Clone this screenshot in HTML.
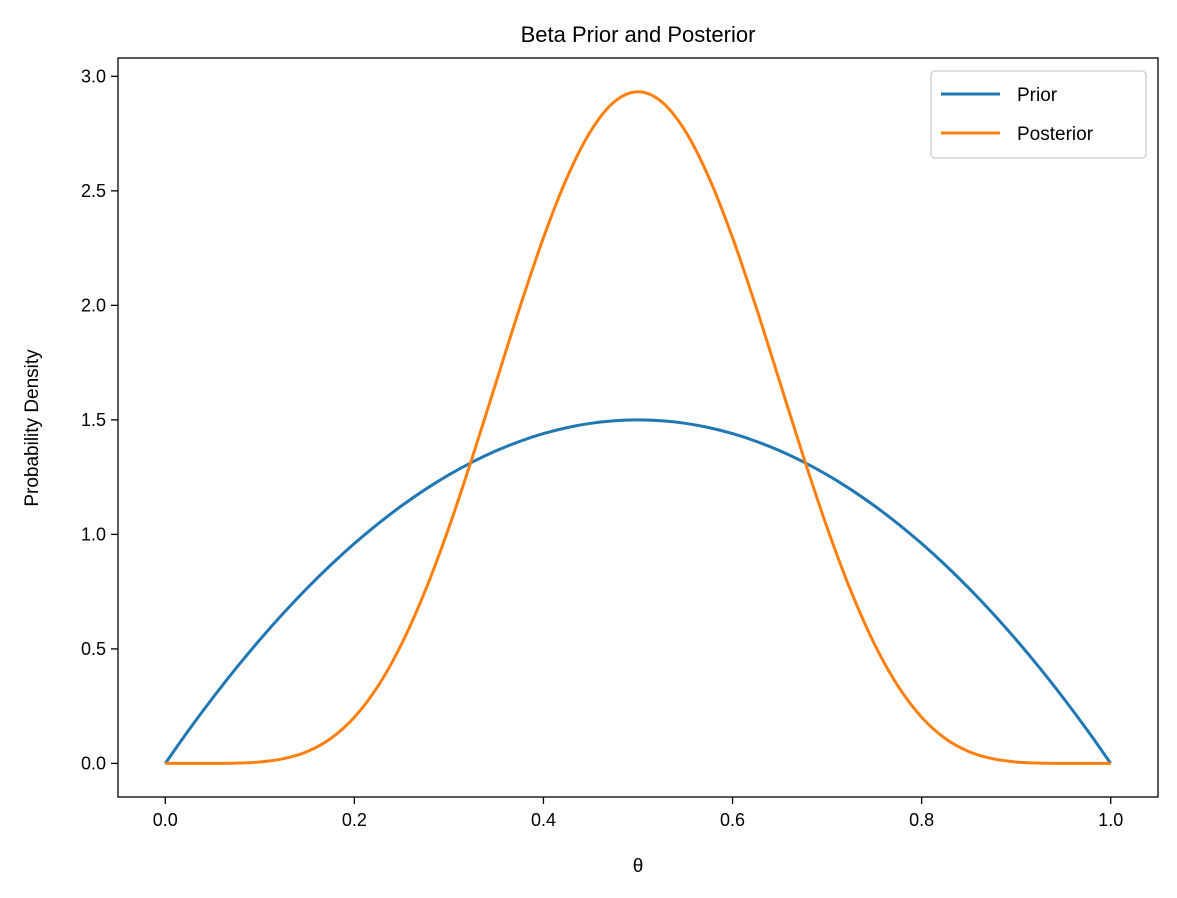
<!DOCTYPE html>
<html><head><meta charset="utf-8">
<style>
html,body{margin:0;padding:0;background:#fff;}
svg{display:block;font-family:"Liberation Sans","DejaVu Sans",sans-serif;}
</style></head>
<body>
<svg id="chart" width="1177" height="898" viewBox="0 0 1177 898" xmlns="http://www.w3.org/2000/svg">
<rect width="1177" height="898" fill="#fff"/>
<text x="638" y="42" font-size="22" text-anchor="middle" fill="#000">Beta Prior and Posterior</text>
<g id="plot"></g>
<rect x="118" y="58" width="1040" height="739" fill="none" stroke="#000" stroke-width="1.3"/>
<text x="638" y="872" font-size="19" text-anchor="middle">θ</text>
<text x="0" y="0" font-size="19" text-anchor="middle" transform="translate(38,428) rotate(-90)">Probability Density</text>
<g>
<rect x="931" y="71" width="215" height="87" rx="4" fill="#fff" fill-opacity="0.8" stroke="#ccc" stroke-width="1.3"/>
<line x1="941" y1="94" x2="1000" y2="94" stroke="#1f77b4" stroke-width="3"/>
<text x="1017" y="101" font-size="19">Prior</text>
<line x1="941" y1="133" x2="1000" y2="133" stroke="#ff7f0e" stroke-width="3"/>
<text x="1017" y="140" font-size="19">Posterior</text>
</g>
</svg>
<script>
const thetaHalf = [0,0.025,0.05,0.075,0.1,0.125,0.15,0.175,0.2,0.225,0.25,0.275,0.3,0.325,0.35,0.375,0.4,0.425,0.45,0.475,0.5];
const priorHalf = [0,0.14625,0.285,0.41625,0.54,0.65625,0.765,0.86625,0.96,1.04625,1.125,1.19625,1.26,1.31625,1.365,1.40625,1.44,1.46625,1.485,1.49625,1.5];
const posteriorHalf = [0,0.0000025,0.000138,0.00134,0.00638,0.02056,0.0516,0.1088,0.2015,0.3377,0.5219,0.7545,1.0302,1.3389,1.6653,1.9911,2.2955,2.5583,2.761,2.889,2.9326];
const xTicks = [0,0.2,0.4,0.6,0.8,1.0];
const xTickLabels = ["0.0","0.2","0.4","0.6","0.8","1.0"];
const yTicks = [0,0.5,1.0,1.5,2.0,2.5,3.0];
const yTickLabels = ["0.0","0.5","1.0","1.5","2.0","2.5","3.0"];

const theta = thetaHalf.concat(thetaHalf.slice(0,-1).reverse().map(v=>+(1-v).toFixed(3)));
const prior = priorHalf.concat(priorHalf.slice(0,-1).reverse());
const posterior = posteriorHalf.concat(posteriorHalf.slice(0,-1).reverse());

const L=118,R=1158,T=58,B=797;
const xMin=-0.05,xMax=1.05,yMin=-0.1466,yMax=3.08;
const xs=v=>L+(v-xMin)/(xMax-xMin)*(R-L);
const ys=v=>B-(v-yMin)/(yMax-yMin)*(B-T);
const NS="http://www.w3.org/2000/svg";
const g=document.getElementById('plot');
function mk(tag,attrs){const e=document.createElementNS(NS,tag);for(const k in attrs)e.setAttribute(k,attrs[k]);g.appendChild(e);return e;}

xTicks.forEach((t,i)=>{
  const x=xs(t);
  const tk=mk('line',{x1:x,y1:B,x2:x,y2:B+7,stroke:'#000','stroke-width':1.3});
  
  
  const lb=mk('text',{x:x,y:B+29,'font-size':18,'text-anchor':'middle'});
  lb.textContent=xTickLabels[i];
  
  
});
yTicks.forEach((t,i)=>{
  const y=ys(t);
  const tk=mk('line',{x1:L-7,y1:y,x2:L,y2:y,stroke:'#000','stroke-width':1.3});
  
  
  const lb=mk('text',{x:L-12,y:y+6,'font-size':18,'text-anchor':'end'});
  lb.textContent=yTickLabels[i];
  
  
});
function line(vals,color,name){
  const P=theta.map((t,i)=>[xs(t),ys(vals[i])]);
  let d='M'+P[0][0].toFixed(2)+','+P[0][1].toFixed(2);
  for(let i=0;i<P.length-1;i++){
    const p0=P[Math.max(i-1,0)],p1=P[i],p2=P[i+1],p3=P[Math.min(i+2,P.length-1)];
    const c1=[p1[0]+(p2[0]-p0[0])/6,p1[1]+(p2[1]-p0[1])/6];
    const c2=[p2[0]-(p3[0]-p1[0])/6,p2[1]-(p3[1]-p1[1])/6];
    d+=' C'+c1[0].toFixed(2)+','+c1[1].toFixed(2)+' '+c2[0].toFixed(2)+','+c2[1].toFixed(2)+' '+p2[0].toFixed(2)+','+p2[1].toFixed(2);
  }
  const p=mk('path',{d:d,fill:'none',stroke:color,'stroke-width':3,'stroke-linejoin':'round'});
  
  
}
line(prior,'#1f77b4','prior-line');
line(posterior,'#ff7f0e','posterior-line');
</script>
</body></html>
